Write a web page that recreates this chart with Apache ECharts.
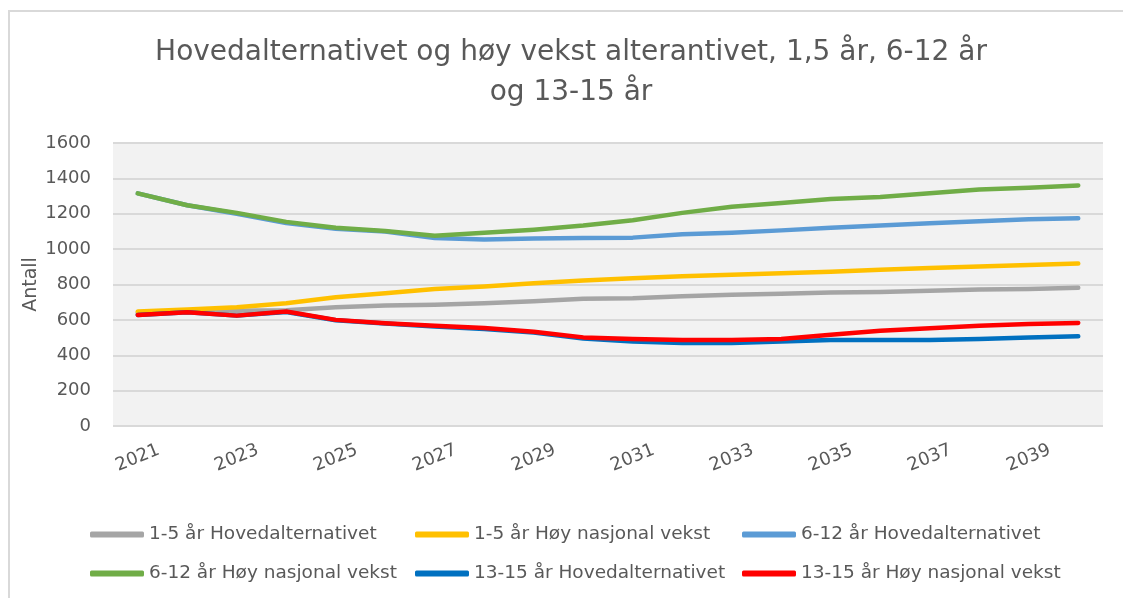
<!DOCTYPE html>
<html>
<head>
<meta charset="utf-8">
<script src="https://cdn.jsdelivr.net/npm/echarts@6/dist/echarts.min.js"></script>
<style>
  html, body { margin: 0; padding: 0; background: #fff; overflow: hidden; }
  #chart { width: 1123px; height: 598px; }
</style>
</head>
<body>
<div id="chart"></div>
<script>
  const years = ['2021', '2022', '2023', '2024', '2025', '2026', '2027', '2028', '2029', '2030',
    '2031', '2032', '2033', '2034', '2035', '2036', '2037', '2038', '2039', '2040'];
  const yTicks = {min: 0, max: 1600, interval: 200};

  const hoved15 = [640, 648, 652, 655, 671, 681, 686, 694, 705, 719, 722, 734, 742, 747, 755, 758, 764, 772, 775, 781];
  const hoy15 = [647, 658, 671, 694, 728, 751, 775, 789, 807, 823, 836, 847, 855, 864, 872, 883, 893, 902, 910, 919];
  const hoved612 = [1315, 1248, 1200, 1148, 1115, 1100, 1063, 1055, 1060, 1063, 1065, 1084, 1093, 1106, 1121, 1133, 1146, 1157, 1169, 1174];
  const hoy612 = [1315, 1248, 1205, 1154, 1121, 1103, 1076, 1093, 1110, 1133, 1163, 1205, 1239, 1261, 1284, 1295, 1316, 1337, 1347, 1360];
  const hoved1315 = [628, 643, 624, 645, 598, 579, 563, 548, 528, 495, 478, 469, 469, 478, 486, 486, 486, 492, 501, 507];
  const hoy1315 = [628, 643, 624, 647, 600, 581, 567, 554, 533, 501, 492, 486, 486, 492, 516, 539, 552, 567, 577, 583];

  const seriesList = [
    {name: '1-5 år Hovedalternativet', data: hoved15, color: '#A5A5A5'},
    {name: '1-5 år Høy nasjonal vekst', data: hoy15, color: '#FFC000'},
    {name: '6-12 år Hovedalternativet', data: hoved612, color: '#5B9BD5'},
    {name: '6-12 år Høy nasjonal vekst', data: hoy612, color: '#70AD47'},
    {name: '13-15 år Hovedalternativet', data: hoved1315, color: '#0070C0'},
    {name: '13-15 år Høy nasjonal vekst', data: hoy1315, color: '#FF0000'},
  ];

  const font = '"DejaVu Sans", sans-serif';
  const textColor = '#595959';
  const legendSpots = [[90, 525], [415, 525], [742, 525], [90, 564], [415, 564], [742, 564]];

  const chart = echarts.init(document.getElementById('chart'), null, {renderer: 'canvas'});
  chart.setOption({
    animation: false,
    backgroundColor: '#fff',
    textStyle: {fontFamily: font},
    // chart frame, only the left and top edges show in the picture
    graphic: [{
      type: 'polyline',
      silent: true,
      shape: {points: [[9, 700], [9, 11], [1200, 11]]},
      style: {fill: 'none', stroke: '#d9d9d9', lineWidth: 2},
    }],
    title: {
      text: 'Hovedalternativet og høy vekst alterantivet, 1,5 år, 6-12 år\nog 13-15 år',
      left: 566,
      top: 28,
      textAlign: 'center',
      textStyle: {fontFamily: font, fontSize: 28, fontWeight: 'normal', color: textColor, lineHeight: 40},
    },
    legend: seriesList.map((s, i) => ({
      data: [s.name],
      left: legendSpots[i][0],
      top: legendSpots[i][1],
      padding: 0,
      itemWidth: 54,
      itemHeight: 6,
      icon: 'roundRect',
      selectedMode: false,
      textStyle: {fontFamily: font, fontSize: 18.5, color: textColor},
    })),
    grid: {
      left: 113, right: 20, top: 143, bottom: 172,
      show: true, backgroundColor: '#f2f2f2', borderWidth: 0,
    },
    xAxis: {
      type: 'category',
      data: years,
      boundaryGap: true,
      axisLine: {show: false},
      axisTick: {show: false},
      axisLabel: {
        interval: 1,
        rotate: 22,
        align: 'center',
        verticalAlign: 'middle',
        margin: 32,
        fontFamily: font,
        fontSize: 18,
        color: textColor,
      },
    },
    yAxis: {
      type: 'value',
      min: yTicks.min,
      max: yTicks.max,
      interval: yTicks.interval,
      name: 'Antall',
      nameLocation: 'middle',
      nameGap: 72,
      nameRotate: 90,
      nameMoveOverlap: false,
      nameTextStyle: {fontFamily: font, fontSize: 19, color: textColor},
      axisLine: {show: false},
      axisTick: {show: false},
      axisLabel: {
        margin: 22,
        fontFamily: font,
        fontSize: 18,
        color: textColor,
        formatter: (value) => String(value),
      },
      splitLine: {lineStyle: {color: '#d9d9d9', width: 2}},
    },
    series: seriesList.map((s) => ({
      name: s.name,
      type: 'line',
      data: s.data,
      symbol: 'none',
      smooth: false,
      color: s.color,
      lineStyle: {width: 4.5, color: s.color, cap: 'round', join: 'round'},
    })),
  });
</script>
</body>
</html>
